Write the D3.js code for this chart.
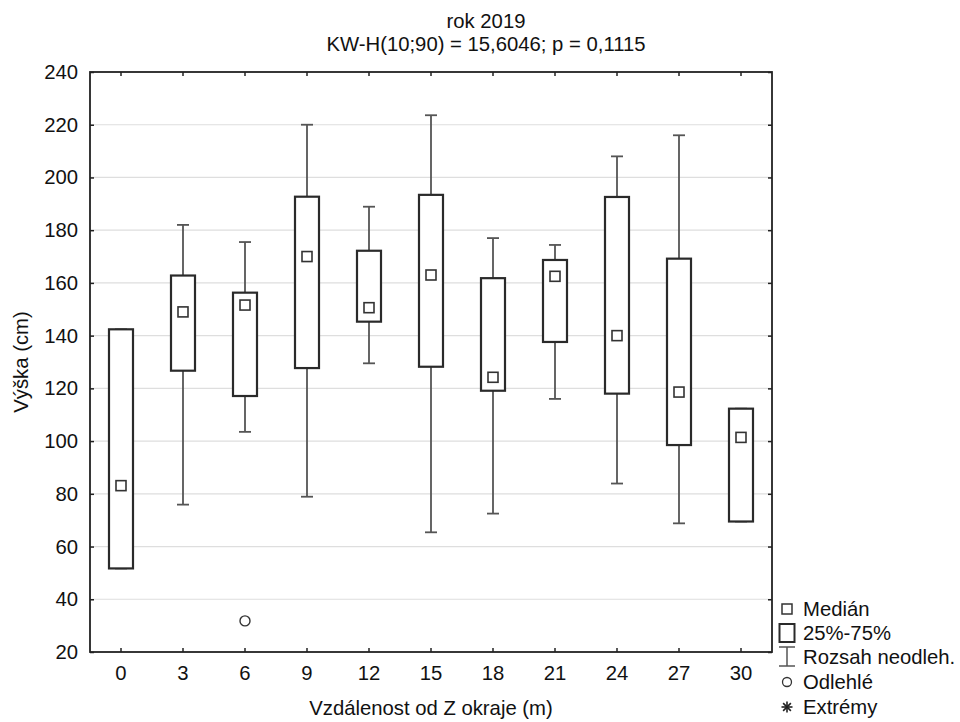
<!DOCTYPE html>
<html>
<head>
<meta charset="utf-8">
<script src="https://cdn.jsdelivr.net/npm/d3@7"></script>
<style>
  body { margin: 0; background: #fff; }
  svg text { font-family: "Liberation Sans", Arial, sans-serif; fill: #111; }
</style>
</head>
<body>
<svg id="chart" width="960" height="722"></svg>
<script>
// distance from the edge (m)
var categories = ["0", "3", "6", "9", "12", "15", "18", "21", "24", "27", "30"];
var whiskerLow  = [51.7, 75.9, 103.5, 78.9, 129.5, 65.4, 72.5, 116.0, 83.9, 68.8, 69.5];
var q1          = [51.7, 126.7, 117.1, 127.7, 145.3, 128.2, 119.1, 137.6, 118.0, 98.5, 69.5];
var median      = [83.1, 149.0, 151.6, 170.0, 150.6, 163.0, 124.2, 162.5, 140.0, 118.6, 101.4];
var q3          = [142.4, 162.8, 156.3, 192.7, 172.2, 193.4, 161.8, 168.7, 192.6, 169.2, 112.3];
var whiskerHigh = [142.4, 182.0, 175.5, 220.0, 188.9, 223.6, 177.0, 174.4, 208.0, 216.0, 112.3];
var outlierCats   = ["6"];
var outlierValues = [31.8];
var yTicks = [20, 40, 60, 80, 100, 120, 140, 160, 180, 200, 220, 240];

var titleLines = ["rok 2019", "KW-H(10;90) = 15,6046; p = 0,1115"];
var xTitle = "Vzdálenost od Z okraje (m)";
var yTitle = "Výška (cm)";
var legendLabels = ["Medián", "25%-75%", "Rozsah neodleh.", "Odlehlé", "Extrémy"];

var margin = {left: 90, top: 72, right: 188, bottom: 70};
var W = 960, H = 722;
var plotW = W - margin.left - margin.right;   // 682
var plotH = H - margin.top - margin.bottom;   // 580

var svg = d3.select("#chart");
var g = svg.append("g").attr("transform", "translate(" + margin.left + "," + margin.top + ")");

var x = d3.scaleBand().domain(categories).range([0, plotW]).padding(0);
var y = d3.scaleLinear().domain([20, 240]).range([plotH, 0]);

var boxW = 24, capW = 12, fontSize = 20.3;

// gridlines
g.append("g").selectAll("line").data(yTicks.slice(1, -1)).join("line")
    .attr("x1", 0).attr("x2", plotW)
    .attr("y1", function(d) { return y(d); }).attr("y2", function(d) { return y(d); })
    .attr("stroke", "#dedede").attr("stroke-width", 1.2);

// axes (ticks pointing inward)
var yAxis = g.append("g").call(d3.axisLeft(y).tickValues(yTicks).tickSize(-4).tickPadding(12));
var yAxisR = g.append("g").attr("transform", "translate(" + plotW + ",0)")
    .call(d3.axisRight(y).tickValues(yTicks).tickSize(-4).tickFormat(""));
var xAxis = g.append("g").attr("transform", "translate(0," + plotH + ")")
    .call(d3.axisBottom(x).tickSize(-4).tickPadding(14));
var xAxisT = g.append("g").call(d3.axisTop(x).tickSize(-4).tickFormat(""));
[yAxis, yAxisR, xAxis, xAxisT].forEach(function(a) {
  a.select(".domain").remove();
  a.selectAll("line").attr("stroke", "#222").attr("stroke-width", 1.5);
  a.selectAll("text").attr("font-size", fontSize).attr("fill", "#111")
    .style("font-family", "'Liberation Sans', Arial, sans-serif");
});

// frame
g.append("rect").attr("width", plotW).attr("height", plotH)
    .attr("fill", "none").attr("stroke", "#222").attr("stroke-width", 1.8);

// boxes
var idx = d3.range(categories.length);
var boxes = g.append("g").selectAll("g").data(idx).join("g")
    .attr("transform", function(i) { return "translate(" + (x(categories[i]) + x.bandwidth() / 2) + ",0)"; });

boxes.append("line").attr("class", "whisker")
    .attr("x1", 0).attr("x2", 0)
    .attr("y1", function(i) { return y(whiskerHigh[i]); })
    .attr("y2", function(i) { return y(whiskerLow[i]); })
    .attr("stroke", "#555").attr("stroke-width", 1.8);
boxes.append("line")
    .attr("x1", -capW / 2).attr("x2", capW / 2)
    .attr("y1", function(i) { return y(whiskerHigh[i]); })
    .attr("y2", function(i) { return y(whiskerHigh[i]); })
    .attr("stroke", "#555").attr("stroke-width", 1.8);
boxes.append("line")
    .attr("x1", -capW / 2).attr("x2", capW / 2)
    .attr("y1", function(i) { return y(whiskerLow[i]); })
    .attr("y2", function(i) { return y(whiskerLow[i]); })
    .attr("stroke", "#555").attr("stroke-width", 1.8);
boxes.append("rect")
    .attr("x", -boxW / 2).attr("width", boxW)
    .attr("y", function(i) { return y(q3[i]); })
    .attr("height", function(i) { return y(q1[i]) - y(q3[i]); })
    .attr("fill", "#fff").attr("stroke", "#2a2a2a").attr("stroke-width", 2.2);
boxes.append("rect")
    .attr("x", -5).attr("width", 10).attr("height", 10)
    .attr("y", function(i) { return y(median[i]) - 5; })
    .attr("fill", "#fff").attr("stroke", "#333").attr("stroke-width", 1.6);

// outliers
g.append("g").selectAll("circle").data(outlierCats).join("circle")
    .attr("cx", function(d) { return x(d) + x.bandwidth() / 2; })
    .attr("cy", function(d, i) { return y(outlierValues[i]); })
    .attr("r", 5).attr("fill", "none").attr("stroke", "#333").attr("stroke-width", 1.4);

// titles
svg.append("g").selectAll("text").data(titleLines).join("text")
    .attr("x", 486).attr("y", function(d, i) { return 28 + i * 23; })
    .attr("text-anchor", "middle").attr("font-size", fontSize).text(function(d) { return d; });
svg.append("text").attr("x", margin.left + plotW / 2).attr("y", 715)
    .attr("text-anchor", "middle").attr("font-size", fontSize).text(xTitle);
svg.append("text")
    .attr("transform", "translate(28," + (margin.top + plotH / 2) + ") rotate(-90)")
    .attr("text-anchor", "middle").attr("font-size", fontSize).text(yTitle);

// legend
var lx = 787, ly = [609, 633, 657, 682, 707];
var leg = svg.append("g");
leg.append("rect").attr("x", lx - 5).attr("y", ly[0] - 5).attr("width", 10).attr("height", 10)
    .attr("fill", "#fff").attr("stroke", "#333").attr("stroke-width", 1.5);
leg.append("rect").attr("x", lx - 7.5).attr("y", ly[1] - 9).attr("width", 15).attr("height", 18)
    .attr("fill", "#fff").attr("stroke", "#2a2a2a").attr("stroke-width", 2);
leg.append("line").attr("x1", lx).attr("x2", lx).attr("y1", ly[2] - 10).attr("y2", ly[2] + 9)
    .attr("stroke", "#555").attr("stroke-width", 1.5);
[ly[2] - 10, ly[2] + 9].forEach(function(yy) {
  leg.append("line").attr("x1", lx - 8).attr("x2", lx + 8).attr("y1", yy).attr("y2", yy)
      .attr("stroke", "#555").attr("stroke-width", 1.5);
});
leg.append("circle").attr("cx", lx).attr("cy", ly[3]).attr("r", 4.5)
    .attr("fill", "none").attr("stroke", "#333").attr("stroke-width", 1.3);
[0, 45, 90, 135].forEach(function(a) {
  var r = a * Math.PI / 180, d = 5.5;
  leg.append("line")
      .attr("x1", lx - d * Math.cos(r)).attr("x2", lx + d * Math.cos(r))
      .attr("y1", ly[4] - d * Math.sin(r)).attr("y2", ly[4] + d * Math.sin(r))
      .attr("stroke", "#222").attr("stroke-width", 1.6);
});
leg.selectAll("text").data(legendLabels).join("text")
    .attr("x", 803).attr("y", function(d, i) { return ly[i] + 7; })
    .attr("font-size", fontSize).text(function(d) { return d; });
</script>
</body>
</html>
